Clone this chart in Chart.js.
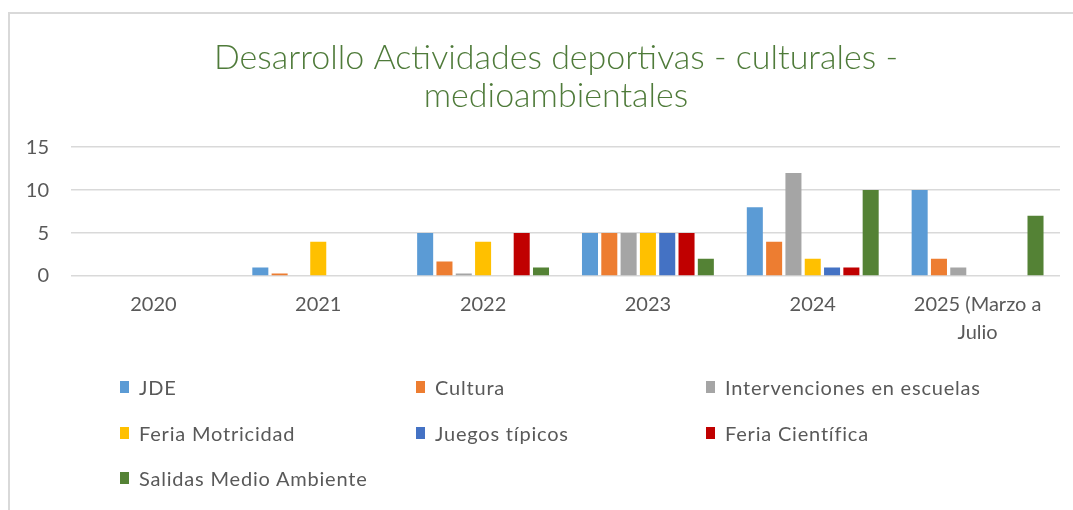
<!DOCTYPE html>
<html lang="es">
<head>
<meta charset="utf-8">
<title>Desarrollo Actividades deportivas - culturales - medioambientales</title>
<script src="https://cdn.jsdelivr.net/npm/chart.js@4.4.1/dist/chart.umd.min.js"></script>
<style>
  html, body { margin: 0; padding: 0; background: #ffffff; }
  #wrap { position: relative; width: 1073px; height: 510px; overflow: hidden; background: #ffffff; }
  #frame {
    position: absolute; left: 8px; top: 12px; width: 1100px; height: 520px;
    border-left: 2px solid #d9d9d9; border-top: 2px solid #d9d9d9; box-sizing: border-box;
  }
  #chart { position: absolute; left: 0; top: 0; }
  #legend { position: absolute; left: 0; top: 0; width: 1073px; height: 510px; pointer-events: none; }
  .item {
    position: absolute; display: flex; align-items: center; white-space: nowrap;
    font-family: Lato, "Liberation Sans", sans-serif; font-size: 20px; letter-spacing: 0.8px;
    color: #595959; transform: translateY(-50%);
  }
  .swatch { display: inline-block; width: 9px; height: 12px; margin-right: 10px; }
</style>
</head>
<body>
<div id="wrap">
  <div id="frame"></div>
  <canvas id="chart" width="1073" height="510"></canvas>
  <div id="legend"></div>
</div>
<script>
// Years shown on the category axis
const categories = ['2020', '2021', '2022', '2023', '2024', ['2025 (Marzo a', 'Julio']];

// Number of activities per year, one array per programme
const jde              = [0, 1,   5,   5, 8,  10];
const cultura          = [0, 0.3, 1.7, 5, 4,  2];
const intervenciones   = [0, 0,   0.3, 5, 12, 1];
const feriaMotricidad  = [0, 4,   4,   5, 2,  0];
const juegosTipicos    = [0, 0,   0,   5, 1,  0];
const feriaCientifica  = [0, 0,   5,   5, 1,  0];
const salidasAmbiente  = [0, 0,   1,   2, 10, 7];

// Value axis ticks
const yTicks = [0, 5, 10, 15];

const seriesNames = ['JDE', 'Cultura', 'Intervenciones en escuelas', 'Feria Motricidad',
                     'Juegos típicos', 'Feria Científica', 'Salidas Medio Ambiente'];
const seriesValues = [jde, cultura, intervenciones, feriaMotricidad,
                      juegosTipicos, feriaCientifica, salidasAmbiente];
const seriesColors = ['#5b9bd5', '#ed7d31', '#a5a5a5', '#ffc000', '#4472c4', '#c00000', '#548235'];

const datasets = seriesNames.map((name, i) => ({
  label: name,
  data: seriesValues[i],
  backgroundColor: seriesColors[i],
  borderWidth: 0,
  categoryPercentage: 0.82,
  barPercentage: 0.83
}));

const axisFont = { family: 'Lato, "Liberation Sans", sans-serif', size: 20, lineHeight: 1.4 };

// Centre the title over the framed area rather than the whole canvas
const titleShift = {
  id: 'titleShift',
  afterLayout(chart) {
    const t = chart.titleBlock;
    if (!t) return;
    t.left = 52;
    t.right = chart.chartArea.right;
    t.width = t.right - t.left;
  }
};

const chart = new Chart(document.getElementById('chart'), {
  type: 'bar',
  data: { labels: categories, datasets },
  plugins: [titleShift],
  options: {
    responsive: false,
    animation: false,
    events: [],
    layout: { padding: { left: 10, right: 13, top: 0, bottom: 148 } },
    plugins: {
      legend: { display: false },
      tooltip: { enabled: false },
      title: {
        display: true,
        text: ['Desarrollo Actividades deportivas - culturales -', 'medioambientales'],
        color: '#4f7b3a',
        font: { family: 'Lato, "Liberation Sans", sans-serif', size: 34, weight: '300', lineHeight: 1.12 },
        padding: { top: 39, bottom: 32 }
      }
    },
    scales: {
      x: {
        grid: { display: false, drawTicks: false },
        border: { display: false },
        ticks: { color: '#595959', font: axisFont, padding: 15, maxRotation: 0, autoSkip: false }
      },
      y: {
        min: 0,
        max: 15,
        afterBuildTicks: (scale) => { scale.ticks = yTicks.map(v => ({ value: v })); },
        afterFit: (scale) => { scale.width = 61; },
        grid: { color: '#d9d9d9', lineWidth: 1.5, drawTicks: false },
        border: { display: false },
        ticks: { color: '#595959', font: axisFont, padding: 22 }
      }
    }
  }
});

// Legend laid out in three columns, built from the chart's datasets
const legendCols = [120, 416, 706];
const legendRows = [387, 433, 478];
const legendEl = document.getElementById('legend');
chart.data.datasets.forEach((ds, i) => {
  const item = document.createElement('div');
  item.className = 'item';
  item.style.left = legendCols[i % 3] + 'px';
  item.style.top = legendRows[Math.floor(i / 3)] + 'px';
  const sw = document.createElement('span');
  sw.className = 'swatch';
  sw.style.background = ds.backgroundColor;
  const tx = document.createElement('span');
  tx.textContent = ds.label;
  item.appendChild(sw);
  item.appendChild(tx);
  legendEl.appendChild(item);
});
</script>
</body>
</html>
